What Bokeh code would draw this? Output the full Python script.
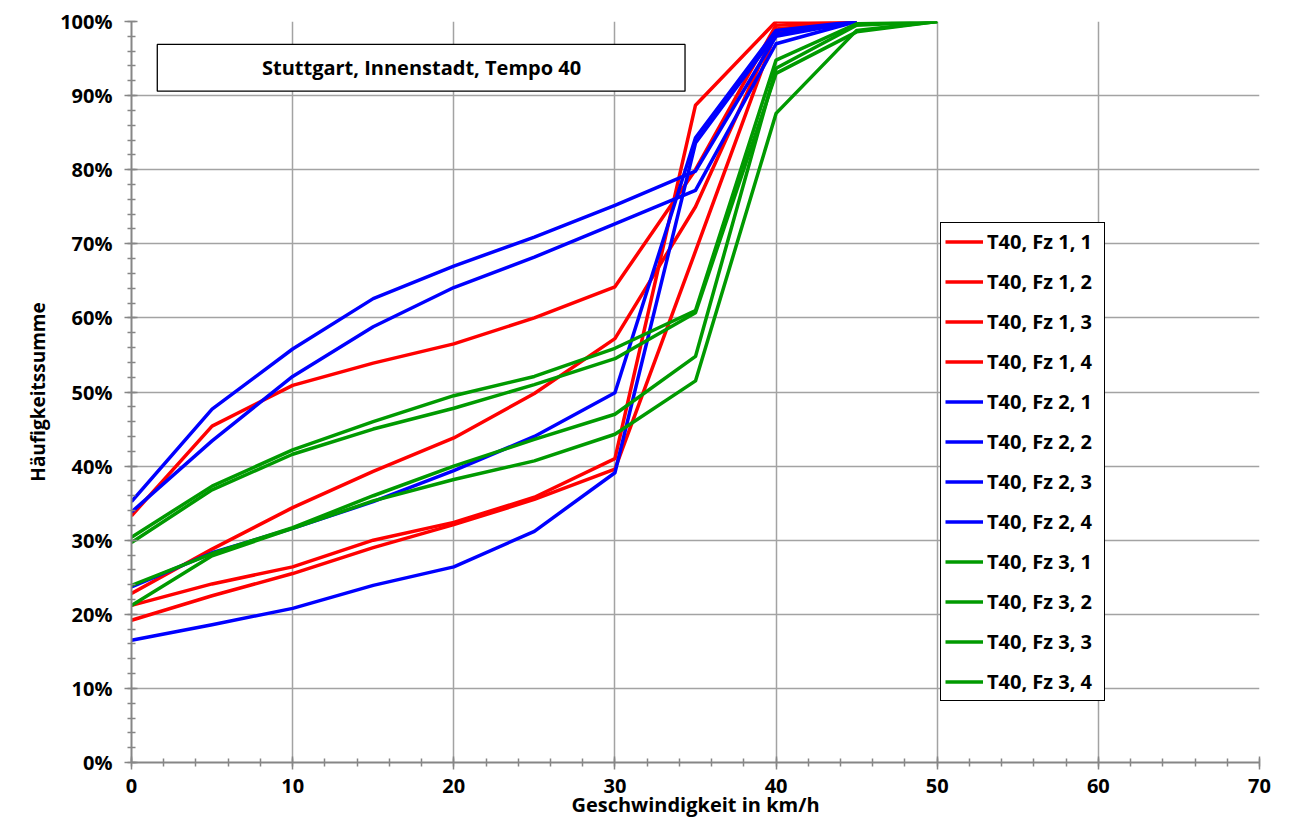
from bokeh.plotting import figure
from bokeh.models import (Range1d, SingleIntervalTicker, PrintfTickFormatter, Legend,
                          LegendItem, BoxAnnotation, Label)
from bokeh.embed import file_html
from bokeh.resources import INLINE

# ---------------- data ----------------
speeds = [0, 5, 10, 15, 20, 25, 30, 35, 40, 45, 50]

red_1 = [33.3, 45.4, 50.9, 53.9, 56.5, 60.0, 64.2, 80.0, 99.5, 100.0]
red_2 = [22.8, 28.8, 34.4, 39.3, 43.8, 49.8, 57.2, 75.0, 99.0, 100.0]
red_3 = [21.2, 24.1, 26.4, 30.0, 32.4, 35.8, 41.0, 88.7, 100.0, 100.0]
red_4 = [19.2, 22.5, 25.5, 29.0, 32.1, 35.5, 39.6, 69.0, 98.7, 100.0]

blue_1 = [35.2, 47.7, 55.8, 62.6, 67.0, 70.9, 75.2, 79.8, 98.0, 100.0]
blue_2 = [33.8, 43.4, 52.1, 58.8, 64.1, 68.2, 72.7, 77.2, 97.0, 100.0]
blue_3 = [23.7, 28.3, 31.6, 35.2, 39.4, 44.0, 49.9, 84.3, 98.8, 100.0]
blue_4 = [16.5, 18.6, 20.8, 23.9, 26.4, 31.2, 39.1, 83.6, 98.3, 100.0]

green_1 = [30.4, 37.3, 42.2, 46.0, 49.5, 52.1, 55.9, 61.0, 94.8, 99.7, 100.0]
green_2 = [29.7, 36.8, 41.6, 45.0, 47.8, 51.0, 54.5, 60.7, 93.0, 98.6, 100.0]
green_3 = [23.9, 28.2, 31.7, 36.0, 40.0, 43.6, 47.0, 54.8, 93.7, 99.5, 100.0]
green_4 = [21.2, 27.9, 31.6, 35.3, 38.2, 40.7, 44.3, 51.5, 87.6, 98.8, 100.0]

series_labels = ["T40, Fz 1, 1", "T40, Fz 1, 2", "T40, Fz 1, 3", "T40, Fz 1, 4",
                 "T40, Fz 2, 1", "T40, Fz 2, 2", "T40, Fz 2, 3", "T40, Fz 2, 4",
                 "T40, Fz 3, 1", "T40, Fz 3, 2", "T40, Fz 3, 3", "T40, Fz 3, 4"]
series_values = [red_1, red_2, red_3, red_4, blue_1, blue_2, blue_3, blue_4,
                 green_1, green_2, green_3, green_4]

title_text = "Stuttgart, Innenstadt, Tempo 40"
x_label = "Geschwindigkeit in km/h"
y_label = "Häufigkeitssumme"

RED, BLUE, GREEN = "#ff0000", "#0000ff", "#009a00"
colors = [RED] * 4 + [BLUE] * 4 + [GREEN] * 4

FONT = "Open Sans"

p = figure(frame_width=1128, frame_height=741,
           min_border_left=131, min_border_top=21, min_border_right=15, min_border_bottom=4,
           x_range=Range1d(0, 70), y_range=Range1d(0, 100),
           output_backend="svg", toolbar_location=None)
p.outline_line_color = None
p.background_fill_color = "white"
p.border_fill_color = "white"

renderers = []
for vals, col in zip(series_values, colors):
    r = p.line(speeds[:len(vals)], vals, line_color=col, line_width=3.5, line_join="round")
    renderers.append(r)

# axes
for ax in (p.xaxis[0], p.yaxis[0]):
    ax.axis_line_color = "#868686"
    ax.axis_line_width = 2
    ax.major_tick_line_color = "#868686"
    ax.minor_tick_line_color = "#868686"
    ax.major_tick_line_width = 1.5
    ax.minor_tick_line_width = 1.5
    ax.major_tick_in = 6
    ax.major_tick_out = 7
    ax.minor_tick_in = 4
    ax.minor_tick_out = 4
    ax.major_label_text_font = FONT
    ax.major_label_text_font_style = "bold"
    ax.major_label_text_font_size = "20px"
    ax.major_label_text_color = "black"
    ax.axis_label_text_font = FONT
    ax.axis_label_text_font_style = "bold"
    ax.axis_label_text_color = "black"

p.xaxis.ticker = SingleIntervalTicker(interval=10, num_minor_ticks=5)
p.yaxis.ticker = SingleIntervalTicker(interval=10, num_minor_ticks=5)
p.yaxis.formatter = PrintfTickFormatter(format="%d%%")
p.xaxis.axis_label = x_label
p.yaxis.axis_label = y_label
p.xaxis.axis_label_text_font_size = "20px"
p.yaxis.axis_label_text_font_size = "19px"
p.xaxis.major_label_standoff = 9
p.xaxis.axis_label_standoff = -5
p.yaxis.major_label_standoff = 12
p.yaxis.axis_label_standoff = 6

for g in (p.xgrid[0], p.ygrid[0]):
    g.grid_line_color = "#a3a3a3"
    g.grid_line_width = 1.5
p.xgrid.ticker = SingleIntervalTicker(interval=10)
p.ygrid.ticker = SingleIntervalTicker(interval=10)

# title box
box = BoxAnnotation(left=1.6, right=34.35, bottom=90.6, top=96.9,
                    fill_color="white", fill_alpha=1.0,
                    line_color="black", line_alpha=1.0, line_width=1.3)
p.add_layout(box)
p.add_layout(Label(x=18.0, y=93.75, text=title_text, text_align="center", text_baseline="middle",
                   text_font=FONT, text_font_style="bold", text_font_size="20px",
                   text_color="black"))

# legend
items = [LegendItem(label=lab, renderers=[r]) for lab, r in zip(series_labels, renderers)]
legend = Legend(items=items, location=(809, 61),
                padding=4, spacing=11, label_height=29, glyph_height=29, glyph_width=38,
                label_standoff=4, label_width=113, margin=0,
                border_line_color="black", border_line_alpha=1.0, border_line_width=1,
                background_fill_color="white", background_fill_alpha=1.0,
                label_text_font=FONT, label_text_font_style="bold",
                label_text_font_size="20px", label_text_color="black")
p.add_layout(legend)

open("out.html", "w").write(file_html(p, INLINE))
